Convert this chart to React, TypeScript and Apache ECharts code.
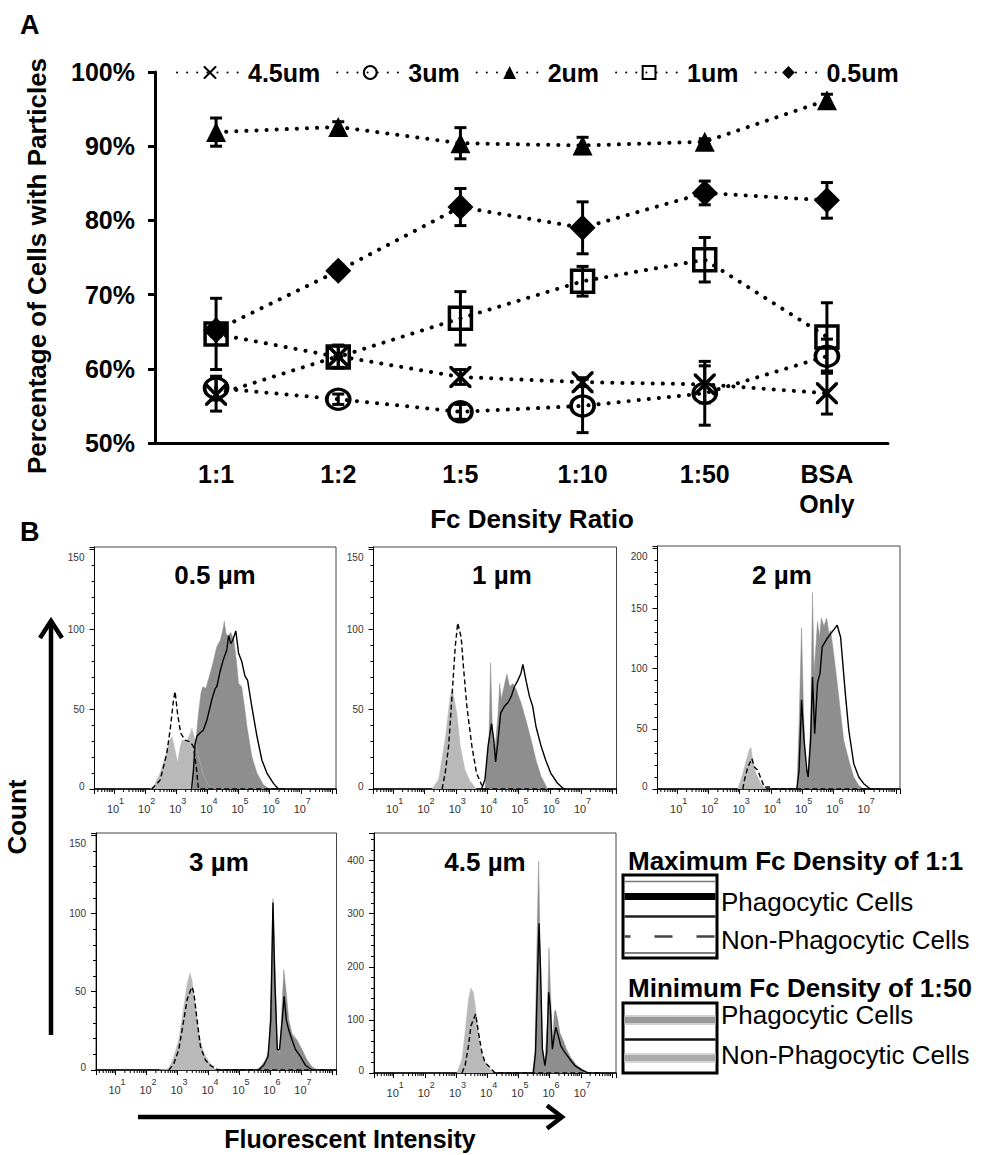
import React, { useEffect, useRef } from 'react';
import * as echarts from 'echarts';

const FONT = '"Liberation Sans", Arial, Helvetica, sans-serif';

// ---------------- Panel A data ----------------
const ratioCategories = ['1:1', '1:2', '1:5', '1:10', '1:50', 'BSA\nOnly'];
const sizeNames = ['4.5um', '3um', '2um', '1um', '0.5um'];
const mean45 = [56.5, 61.7, 58.9, 58.2, 57.9, 56.7];
const err45 = [2.2, 1.5, 1.0, 0.6, 2.5, 2.8];
const mean3 = [57.4, 55.9, 54.2, 55.0, 56.7, 61.7];
const err3 = [1.6, 0.7, 1.0, 3.6, 4.3, 2.3];
const mean2 = [91.9, 92.6, 90.4, 90.1, 90.6, 96.2];
const err2 = [1.9, 0.7, 2.1, 1.1, 0.4, 0.8];
const mean1 = [64.7, 61.6, 66.8, 71.8, 74.7, 64.3];
const err1 = [4.8, 1.5, 3.6, 2.0, 3.0, 4.6];
const mean05 = [65.2, 73.2, 81.8, 79.0, 83.7, 82.7];
const err05 = [0.8, 0.8, 2.5, 3.5, 1.6, 2.4];

// ---------------- Panel B data: [log10 intensity, count] ----------------
const light05 = [[2.16,0],[2.3,2.5],[2.48,10],[2.64,20],[2.8,31],[2.86,32.7],[2.95,25],[3.04,16.5],[3.12,26],[3.18,30.6],[3.34,30],[3.45,35],[3.5,38],[3.57,33],[3.7,22],[3.85,10],[4.0,3],[4.2,0]];
const dark05 = [[3.55,0],[3.6,25],[3.71,47],[3.79,60],[3.85,64],[3.95,63],[4.05,70],[4.14,76],[4.3,89],[4.41,93],[4.5,100],[4.54,105],[4.6,97],[4.66,96],[4.75,98],[4.85,93],[4.93,80],[5.0,66],[5.1,64],[5.2,50],[5.27,39],[5.43,20],[5.59,10],[5.8,2.5],[6.0,0]];
const dashed05 = [[2.21,0],[2.48,5.6],[2.69,22],[2.8,37],[2.91,56],[2.96,61],[3.04,47],[3.14,35],[3.28,30.6],[3.44,29.6],[3.55,26.5],[3.64,14],[3.71,0],[6.5,0]];
const solid05 = [[3.49,0],[3.55,12],[3.6,28],[3.66,33],[3.76,35],[3.87,37],[3.98,43],[4.14,56],[4.25,63],[4.3,64],[4.41,74],[4.51,81],[4.62,87],[4.68,96],[4.75,91],[4.81,93],[4.91,99],[5.0,85],[5.1,80],[5.2,71],[5.29,68],[5.43,51],[5.59,33],[5.75,18],[5.91,10],[6.12,3.5],[6.28,0]];

const light1 = [[2.24,0],[2.45,6],[2.66,31],[2.82,58],[2.89,62.5],[3.03,47.5],[3.14,27],[3.29,12],[3.45,5],[3.66,0]];
const dark1 = [[3.93,0],[4.0,20],[4.06,33],[4.11,79],[4.16,41],[4.24,22],[4.35,47.5],[4.4,66],[4.45,56],[4.56,66],[4.63,72],[4.72,64],[4.82,66],[4.93,62],[5.08,54],[5.24,43],[5.4,31],[5.56,18],[5.72,8],[5.93,0]];
const dashed1 = [[2.56,0],[2.66,10],[2.77,27],[2.89,62],[2.98,89],[3.06,104],[3.17,95],[3.24,77],[3.35,52],[3.51,27],[3.66,10],[3.82,2.7],[3.93,0],[6.5,0]];
const solid1 = [[3.82,0],[3.93,6],[4.03,27],[4.14,41],[4.21,31],[4.27,17],[4.35,31],[4.43,47.5],[4.56,52],[4.66,54],[4.77,58],[4.87,64],[4.98,68],[5.08,72.5],[5.14,78],[5.24,68],[5.35,58],[5.45,52],[5.56,39],[5.72,27],[5.87,18],[6.03,10],[6.24,3.75],[6.45,0]];

const light2 = [[2.94,0],[3.1,12.8],[3.21,23.8],[3.31,32.7],[3.36,34.4],[3.42,23.8],[3.52,12.8],[3.68,4.4],[3.84,0]];
const dark2 = [[4.83,0],[4.9,54],[4.98,134],[5.04,68],[5.11,18],[5.19,12.8],[5.27,54],[5.33,163],[5.38,96],[5.43,115],[5.49,139],[5.56,126],[5.61,142],[5.7,135],[5.78,142],[5.86,129],[5.91,132],[6.02,110],[6.12,88],[6.23,63],[6.33,40.5],[6.49,24],[6.65,10],[6.81,3],[6.97,0]];
const dashed2 = [[3.1,0],[3.15,7.2],[3.26,18.3],[3.39,25.2],[3.47,18.3],[3.58,15.5],[3.68,8.6],[3.79,1.7],[3.95,1.7],[4.02,0],[7.5,0]];
const solid2 = [[4.83,0],[4.9,15.5],[4.98,74],[5.06,40.5],[5.15,15.5],[5.19,10],[5.27,40.5],[5.33,93],[5.4,46],[5.49,88],[5.57,96],[5.64,118],[5.8,125],[5.91,129],[6.02,132.5],[6.12,136],[6.23,126],[6.31,101],[6.39,76.5],[6.49,49],[6.65,21],[6.81,10],[6.97,4.4],[7.18,0]];

const light3 = [[2.4,0],[2.72,1],[2.88,8.5],[3.04,19],[3.17,36],[3.31,55],[3.4,62],[3.47,57],[3.58,40],[3.69,23],[3.85,10.6],[4.01,5.3],[4.23,0]];
const dark3 = [[5.52,0],[5.68,2],[5.84,6.4],[5.95,13],[6.02,53],[6.08,109.5],[6.14,70],[6.22,15],[6.29,10.6],[6.35,32],[6.43,64],[6.51,49],[6.59,32],[6.7,23],[6.86,19],[7.02,13],[7.18,6.4],[7.34,2],[7.5,0]];
const dashed3 = [[2.72,0],[2.88,4],[3.04,13],[3.17,28],[3.31,45],[3.42,51],[3.47,53],[3.53,49],[3.63,32],[3.74,15],[3.9,6.4],[4.06,3],[4.33,0],[7.8,0]];
const solid3 = [[5.62,0],[5.78,3],[5.92,8.5],[6.01,32],[6.08,107],[6.14,57],[6.22,13],[6.29,13],[6.38,32],[6.44,47],[6.51,32],[6.59,25.5],[6.7,19],[6.81,13],[6.97,8.5],[7.13,3],[7.34,0]];

const light45 = [[3.03,0],[3.19,26],[3.29,76],[3.4,139],[3.48,160],[3.56,151],[3.67,101],[3.77,51],[3.88,26],[4.04,10.6],[4.2,0]];
const dark45 = [[5.45,0],[5.53,39],[5.61,289],[5.65,399],[5.7,226],[5.77,45],[5.85,20],[5.93,101],[5.98,236],[6.03,151],[6.1,51],[6.15,114],[6.19,119],[6.26,101],[6.33,76],[6.44,61],[6.54,45],[6.68,29],[6.86,15],[7.08,6],[7.24,0]];
const dashed45 = [[3.19,0],[3.29,14],[3.4,51],[3.48,89],[3.56,101],[3.63,111],[3.72,76],[3.83,39],[3.93,20],[4.09,10.6],[4.25,0],[7.6,0]];
const solid45 = [[5.48,0],[5.55,39],[5.62,195],[5.66,282],[5.71,195],[5.77,45],[5.85,14],[5.91,39],[5.97,152],[6.02,126],[6.09,45],[6.15,70],[6.2,86],[6.28,70],[6.36,51],[6.49,39],[6.65,26],[6.81,14],[7.02,6],[7.24,0]];

const histTitles = ['0.5 µm', '1 µm', '2 µm', '3 µm', '4.5 µm'];
const histData = [
  [light05, dark05, dashed05, solid05],
  [light1, dark1, dashed1, solid1],
  [light2, dark2, dashed2, solid2],
  [light3, dark3, dashed3, solid3],
  [light45, dark45, dashed45, solid45],
];
const histYMax = [151.5, 151.5, 201.8, 151.4, 452];
const histYInterval = [50, 50, 50, 50, 100];
const histTopLabel = [150, 150, 200, 150, -1];
const logTickExponents = [1, 2, 3, 4, 5, 6, 7];

// ---------------- layout ----------------
const histLayout = [
  { left: 94.5, top: 547, width: 241.5, height: 242, tx: 215, ty: 575 },
  { left: 373.5, top: 547, width: 243, height: 242, tx: 502, ty: 575 },
  { left: 657.5, top: 546, width: 242.5, height: 243, tx: 782, ty: 575 },
  { left: 96, top: 833, width: 240.5, height: 237, tx: 219, ty: 862 },
  { left: 374, top: 833, width: 242, height: 240, tx: 485, ty: 862 },
];
const X_MIN_EXP = 0.37;
const X_MAX_EXP = 8.13;
const LIGHT = '#b9b9b9';
const DARK = '#8e8e8e';

const X_PATH = 'path://M0,0 L2.5,0 L11,8.5 L19.5,0 L22,0 L22,2.5 L13.5,11 L22,19.5 L22,22 L19.5,22 L11,13.5 L2.5,22 L0,22 L0,19.5 L8.5,11 L0,2.5 Z';

function buildOption() {
  const dotted = { color: '#000', width: 4, type: [0.1, 10], cap: 'round' };
  const hollow = { color: 'rgba(255,255,255,0)', borderColor: '#000', borderWidth: 3.5 };
  const filled = { color: '#000', borderWidth: 0 };
  const seriesDefs = [
    { name: sizeNames[0], data: mean45, err: err45, symbol: X_PATH, size: 22, style: filled },
    { name: sizeNames[1], data: mean3, err: err3, symbol: 'circle', size: [23, 20], style: hollow },
    { name: sizeNames[2], data: mean2, err: err2, symbol: 'triangle', size: 20, style: filled },
    { name: sizeNames[3], data: mean1, err: err1, symbol: 'rect', size: 22, style: hollow },
    { name: sizeNames[4], data: mean05, err: err05, symbol: 'diamond', size: 26, style: filled },
  ];

  const series: any[] = [];
  seriesDefs.forEach((d) => {
    series.push({
      type: 'custom',
      name: 'err ' + d.name,
      xAxisIndex: 0,
      yAxisIndex: 0,
      z: 2,
      silent: true,
      data: d.data.map((m, i) => [i, m - d.err[i], m + d.err[i]]),
      encode: { x: 0, y: [1, 2] },
      renderItem: (_p: any, api: any) => {
        const lo = api.coord([api.value(0), api.value(1)]);
        const hi = api.coord([api.value(0), api.value(2)]);
        const hw = 6;
        const st = { stroke: '#000', lineWidth: 3 };
        return {
          type: 'group',
          children: [
            { type: 'line', shape: { x1: lo[0], y1: lo[1], x2: hi[0], y2: hi[1] }, style: st },
            { type: 'line', shape: { x1: lo[0] - hw, y1: lo[1], x2: lo[0] + hw, y2: lo[1] }, style: st },
            { type: 'line', shape: { x1: hi[0] - hw, y1: hi[1], x2: hi[0] + hw, y2: hi[1] }, style: st },
          ],
        };
      },
    });
  });
  seriesDefs.forEach((d) => {
    series.push({
      type: 'line',
      name: d.name,
      xAxisIndex: 0,
      yAxisIndex: 0,
      z: 3,
      data: d.data,
      symbol: d.symbol,
      symbolSize: d.size,
      showAllSymbol: true,
      itemStyle: d.style,
      lineStyle: dotted,
      clip: false,
      silent: true,
    });
  });

  const grids: any[] = [{ left: 155, top: 72, width: 733, height: 371 }];
  const xAxes: any[] = [
    {
      type: 'category',
      gridIndex: 0,
      data: ratioCategories,
      boundaryGap: true,
      axisLine: { lineStyle: { color: '#000', width: 3 } },
      axisTick: { alignWithLabel: true, length: 7, lineStyle: { color: '#000', width: 3 } },
      axisLabel: { color: '#000', fontSize: 25, fontWeight: 'bold', fontFamily: FONT, lineHeight: 30, margin: 16 },
    },
  ];
  const yAxes: any[] = [
    {
      type: 'value',
      gridIndex: 0,
      min: 50,
      max: 100,
      interval: 10,
      axisLine: { show: true, lineStyle: { color: '#000', width: 3 } },
      axisTick: { show: true, length: 7, lineStyle: { color: '#000', width: 3 } },
      splitLine: { show: false },
      axisLabel: { formatter: '{value}%', color: '#000', fontSize: 25, fontWeight: 'bold', fontFamily: FONT, margin: 20 },
    },
  ];

  const xMin = Math.pow(10, X_MIN_EXP);
  const xMax = Math.pow(10, X_MAX_EXP);
  const minorVals: number[][] = [];
  for (let n = 0; n <= 8; n++) {
    for (let m = 2; m <= 9; m++) {
      const v = m * Math.pow(10, n);
      if (v > xMin && v < xMax) minorVals.push([v, 0]);
    }
  }
  const labelVals = logTickExponents.map((e) => [Math.pow(10, e), 0, e]);

  const graphics: any[] = [];
  const smallLbl = { fontSize: 10, color: '#333', fontFamily: FONT };

  histLayout.forEach((L, k) => {
    const gi = k + 1;
    grids.push({ left: L.left, top: L.top, width: L.width, height: L.height, show: true, borderColor: '#444', borderWidth: 1 });
    const interval = histYInterval[k];
    const topLabel = histTopLabel[k];
    xAxes.push({
      type: 'log',
      logBase: 10,
      gridIndex: gi,
      min: xMin,
      max: xMax,
      splitLine: { show: false },
      axisLine: { lineStyle: { color: '#000', width: 1.5 } },
      axisTick: { length: 5, lineStyle: { color: '#000', width: 1 } },
      axisLabel: { show: false },
    });
    yAxes.push({
      type: 'value',
      gridIndex: gi,
      min: 0,
      max: histYMax[k],
      interval,
      splitLine: { show: false },
      axisLine: { show: true, lineStyle: { color: '#000', width: 1 } },
      axisTick: { show: true, length: 5, lineStyle: { color: '#000' } },
      minorTick: { show: true, splitNumber: 5, length: 3, lineStyle: { color: '#000' } },
      minorSplitLine: { show: false },
      axisLabel: {
        margin: 10,
        formatter: (v: number) => {
          if (Math.abs(v / interval - Math.round(v / interval)) > 1e-6) return '';
          if (v === topLabel) return '{t|' + v + '}';
          if (v === 0) return '{z|0}';
          return '{n|' + v + '}';
        },
        rich: {
          n: smallLbl,
          t: { ...smallLbl, padding: [16, 0, 0, 0] },
          z: { ...smallLbl, padding: [0, 0, 6, 0] },
        },
      },
    });
    const [lt, dk, ds, sl] = histData[k];
    const conv = (arr: number[][]) => arr.map(([e, c]) => [Math.pow(10, e), c]);
    series.push({
      type: 'line', xAxisIndex: gi, yAxisIndex: gi, data: conv(lt), symbol: 'none', silent: true, z: 2,
      lineStyle: { width: 0.5, color: LIGHT }, areaStyle: { color: LIGHT, opacity: 1 },
    });
    series.push({
      type: 'line', xAxisIndex: gi, yAxisIndex: gi, data: conv(dk), symbol: 'none', silent: true, z: 2,
      lineStyle: { width: 0.5, color: DARK }, areaStyle: { color: DARK, opacity: 1 },
    });
    series.push({
      type: 'line', xAxisIndex: gi, yAxisIndex: gi, data: conv(ds), symbol: 'none', silent: true, z: 3,
      lineStyle: { width: 1.4, color: '#000', type: [5, 3] },
    });
    series.push({
      type: 'line', xAxisIndex: gi, yAxisIndex: gi, data: conv(sl), symbol: 'none', silent: true, z: 3,
      lineStyle: { width: 1.4, color: '#000' },
    });
    // log-style minor ticks
    series.push({
      type: 'custom', xAxisIndex: gi, yAxisIndex: gi, data: minorVals, silent: true, clip: false, z: 5,
      renderItem: (_p: any, api: any) => {
        const pt = api.coord([api.value(0), 0]);
        return { type: 'line', shape: { x1: pt[0], y1: pt[1], x2: pt[0], y2: pt[1] + 3 }, style: { stroke: '#000', lineWidth: 1 } };
      },
    });
    // "10^n" tick labels with raised exponent
    series.push({
      type: 'custom', xAxisIndex: gi, yAxisIndex: gi, data: labelVals, silent: true, clip: false, z: 5,
      encode: { x: 0, y: 1 },
      renderItem: (_p: any, api: any) => {
        const pt = api.coord([api.value(0), 0]);
        const ex = api.value(2);
        return {
          type: 'group',
          children: [
            { type: 'text', x: pt[0] - 1, y: pt[1] + 20, style: { text: '10', fontSize: 11, fontFamily: FONT, fill: '#333', align: 'center', verticalAlign: 'middle' } },
            { type: 'text', x: pt[0] + 5, y: pt[1] + 12, style: { text: String(ex), fontSize: 9, fontFamily: FONT, fill: '#333', align: 'left', verticalAlign: 'middle' } },
          ],
        };
      },
    });
    graphics.push({
      type: 'text', x: L.tx, y: L.ty,
      style: { text: histTitles[k], font: 'bold 26px ' + FONT, fill: '#000', align: 'center', verticalAlign: 'middle', textAlign: 'center', textVerticalAlign: 'middle' },
    });
  });

  const txt = (text: string, x: number, y: number, font: string, align = 'left', rotation = 0) => ({
    type: 'text', x, y, rotation,
    style: { text, font, fill: '#000', align, verticalAlign: 'middle', textAlign: align, textVerticalAlign: 'middle' },
  });
  const bold = (s: number) => 'bold ' + s + 'px ' + FONT;
  const reg = (s: number) => s + 'px ' + FONT;

  graphics.push(txt('A', 20, 25, bold(27)));
  graphics.push(txt('B', 20, 532, bold(27)));
  graphics.push(txt('Percentage of Cells with Particles', 37, 266, bold(26), 'center', Math.PI / 2));
  graphics.push(txt('Fc Density Ratio', 532, 519, bold(26), 'center'));
  graphics.push(txt('Count', 17, 817, bold(26), 'center', Math.PI / 2));
  graphics.push(txt('Fluorescent Intensity', 350, 1139, bold(25), 'center'));

  const arrowStyle = { stroke: '#000', lineWidth: 4.5, fill: null, lineJoin: 'miter' };
  graphics.push({ type: 'line', shape: { x1: 51, y1: 1035, x2: 51, y2: 622 }, style: arrowStyle });
  graphics.push({ type: 'polyline', shape: { points: [[40, 638], [51, 621], [62, 638]] }, style: arrowStyle });
  graphics.push({ type: 'line', shape: { x1: 138, y1: 1117, x2: 559, y2: 1117 }, style: arrowStyle });
  graphics.push({ type: 'polyline', shape: { points: [[547, 1105.5], [562, 1117], [547, 1128.5]] }, style: arrowStyle });

  // Legend boxes of panel B
  graphics.push(txt('Maximum Fc Density of 1:1', 628, 861, bold(26)));
  graphics.push({ type: 'rect', shape: { x: 623, y: 875, width: 94, height: 83 }, style: { stroke: '#000', lineWidth: 3, fill: '#fff' } });
  const hl = (y: number, w: number, c: string, extra: any = {}) => ({
    type: 'line', shape: { x1: 624.5, y1: y, x2: 715.5, y2: y }, style: { stroke: c, lineWidth: w, ...extra },
  });
  graphics.push(hl(881.5, 1.5, '#777'));
  graphics.push(hl(896.5, 7, '#000'));
  graphics.push(hl(916.5, 2.5, '#222'));
  graphics.push(hl(936.5, 2.5, '#444', { lineDash: [18, 24], lineDashOffset: 12 }));
  graphics.push(hl(953, 1.5, '#555'));
  graphics.push(txt('Phagocytic Cells', 721, 902, reg(26)));
  graphics.push(txt('Non-Phagocytic Cells', 721, 940, reg(26)));

  graphics.push(txt('Minimum Fc Density of 1:50', 628, 988, bold(26)));
  graphics.push({ type: 'rect', shape: { x: 623, y: 1003, width: 94, height: 70 }, style: { stroke: '#000', lineWidth: 3, fill: '#fff' } });
  graphics.push(hl(1020, 10, '#d0d0d0'));
  graphics.push(hl(1020, 6, '#999'));
  graphics.push(hl(1039.5, 2.5, '#111'));
  graphics.push(hl(1058, 10, '#d6d6d6'));
  graphics.push(hl(1058, 6, '#aaa'));
  graphics.push(txt('Phagocytic Cells', 721, 1015, reg(26)));
  graphics.push(txt('Non-Phagocytic Cells', 721, 1055, reg(26)));

  return {
    animation: false,
    backgroundColor: '#fff',
    legend: {
      data: sizeNames,
      left: 176,
      top: 60,
      padding: 0,
      itemWidth: 66,
      itemHeight: 16,
      itemGap: 16,
      textStyle: { color: '#000', fontSize: 25, fontWeight: 'bold', fontFamily: FONT },
      selectedMode: false,
    },
    grid: grids,
    xAxis: xAxes,
    yAxis: yAxes,
    series,
    graphic: { elements: graphics },
  };
}

export default function App() {
  const ref = useRef<HTMLDivElement>(null);
  useEffect(() => {
    document.body.style.margin = '0';
    const chart = echarts.init(ref.current as HTMLDivElement, undefined, { renderer: 'svg' });
    chart.setOption(buildOption() as any);
    return () => chart.dispose();
  }, []);
  return <div ref={ref} style={{ width: 981, height: 1155, background: '#fff' }} />;
}
